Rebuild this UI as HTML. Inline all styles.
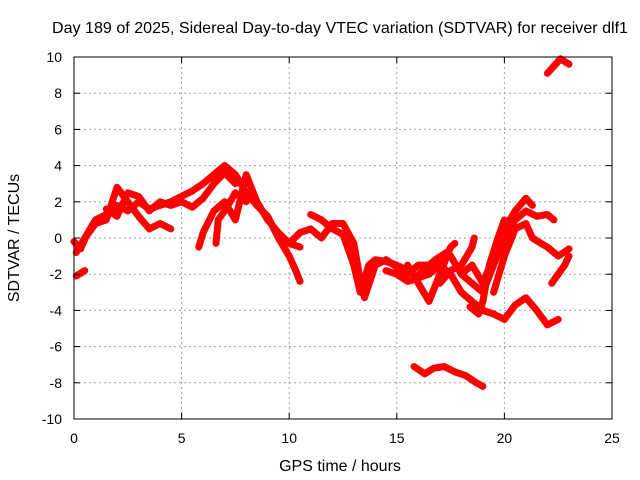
<!DOCTYPE html>
<html><head><meta charset="utf-8"><style>
html,body{margin:0;padding:0;background:#fff}
svg{display:block;font-family:"Liberation Sans",sans-serif}
</style></head><body>
<svg id="chart" width="640" height="480" xmlns="http://www.w3.org/2000/svg">
<text x="340" y="33" text-anchor="middle" font-size="16" textLength="576" lengthAdjust="spacingAndGlyphs" fill="#000">Day 189 of 2025, Sidereal Day-to-day VTEC variation (SDTVAR) for receiver dlf1</text>
<g id="grid"></g>
<g id="series"></g>
<rect x="74" y="57" width="538" height="362" fill="none" stroke="#000" stroke-width="1"/>
<g id="ticks"></g>
<text x="340" y="471" text-anchor="middle" font-size="16">GPS time / hours</text>
<text transform="translate(19,238) rotate(-90)" text-anchor="middle" font-size="16">SDTVAR / TECUs</text>
</svg>
<script>
const xTicks = [0,5,10,15,20,25];
const yTicks = [-10,-8,-6,-4,-2,0,2,4,6,8,10];
const trace1 = [[0,-0.2],[0.3,-0.6],[0.6,0.2],[1,1],[1.5,1.3],[2,1.8],[2.5,1.5],[3,2],[3.5,1.6],[4,1.8],[4.5,2],[5,2.3],[5.5,2.6],[6,3],[6.5,3.5],[7,4],[7.5,3.5],[8,2.5],[8.5,1.8],[9,1.2],[9.5,0],[10,-1],[10.3,-1.8],[10.5,-2.4]];
const trace2 = [[0.1,-0.8],[0.5,0],[1,0.8],[1.5,1],[2,2.8],[2.5,2],[3,1.2],[3.5,0.5],[4,0.8],[4.5,0.5]];
const trace3 = [[1.5,1.6],[2,1.2],[2.5,2.5],[3,2.3],[3.5,1.5],[4,2],[4.5,1.8],[5,2],[5.5,1.7],[6,2.2],[6.5,3],[7,3.6],[7.5,3]];
const trace4 = [[5.8,-0.5],[6,0.3],[6.5,1.5],[7,2],[7.5,1],[8,3.5],[8.5,2],[9,1],[9.5,0.3],[10,-0.3],[10.5,-0.5]];
const trace5 = [[6.6,-0.3],[6.7,1],[7,1.5],[7.5,2.5],[8,2]];
const trace6 = [[10,-0.3],[10.5,0.3],[11,0.5],[11.5,0],[12,0.8],[12.5,0.8],[13,-0.3],[13.3,-2.3],[13.5,-3.3],[14,-1.5],[14.5,-1.2],[15,-1.6],[15.5,-2],[16,-1.5],[16.5,-1.5],[17,-1.2],[17.5,-1],[18,-2],[18.5,-1.5],[19,-2.5],[19.5,-1],[20,0.5],[20.5,1.5],[21,2.2],[21.3,1.8]];
const trace7 = [[11,1.3],[11.5,1],[12,0.5],[12.5,0.2],[13,-1.5],[13.3,-3],[13.7,-1.5],[14,-1.2],[14.5,-1.3],[15,-1.5],[15.5,-1.8]];
const trace8 = [[15.5,-1.5],[16,-2.5],[16.5,-3.5],[17,-2],[17.5,-0.5],[17.7,-0.3]];
const trace9 = [[16,-2.2],[16.5,-2],[17,-1.5],[17.5,-2],[18,-3],[18.5,-3.5],[19,-4],[19.5,-4.2],[20,-4.5],[20.5,-3.7],[21,-3.3],[21.5,-4],[22,-4.8],[22.5,-4.5]];
const trace10 = [[17,-2.5],[17.5,-1.8],[18,-1.5],[18.5,-0.5],[18.6,0]];
const trace11 = [[18,-2],[18.5,-2.5],[19,-3],[19.5,-1.5],[20,0],[20.5,1],[21,1.5],[21.5,1.2],[22,1.3],[22.3,1]];
const trace12 = [[19.5,-3],[20,-1],[20.5,0.5],[21,0.8],[21.3,0],[21.7,-0.3],[22,-0.5],[22.5,-1],[23,-0.6]];
const trace13 = [[22.2,-2.5],[22.5,-2],[22.8,-1.5],[23,-1]];
const trace14 = [[15.8,-7.1],[16.3,-7.5],[16.7,-7.2],[17.2,-7.1],[17.7,-7.4],[18.2,-7.6],[18.7,-8],[19,-8.2]];
const trace15 = [[22,9.1],[22.3,9.5],[22.6,9.9],[23,9.6]];
const trace16 = [[0.1,-2.1],[0.5,-1.8]];
const trace17 = [[18.4,-3.8],[18.8,-4.2],[19,-3.5],[19.3,-1.5],[19.7,0],[20,1]];
const trace18 = [[14.5,-1.8],[15,-2],[15.5,-2.4],[15.8,-2.3],[16.2,-1.8],[16.8,-1.2],[17.3,-0.8]];
const traces = [trace1,trace2,trace3,trace4,trace5,trace6,trace7,trace8,trace9,trace10,trace11,trace12,trace13,trace14,trace15,trace16,trace17,trace18];

const X0=74, X1=612, Y0=419, Y1=57;
function sx(v){return X0+(v-0)/25*(X1-X0);}
function sy(v){return Y0-(v+10)/20*(Y0-Y1);}
const NS='http://www.w3.org/2000/svg';
const grid=document.getElementById('grid'), ticks=document.getElementById('ticks'), series=document.getElementById('series');
function mk(tag,attrs,parent){const e=document.createElementNS(NS,tag);for(const k in attrs)e.setAttribute(k,attrs[k]);parent.appendChild(e);return e;}
xTicks.forEach(t=>{
  const x=sx(t);
  if(t>0&&t<25){const g=mk('line',{x1:x,x2:x,y1:Y1,y2:Y0,stroke:'#a0a0a0','stroke-dasharray':'2,3'},grid);
  
  }
  const l=mk('line',{x1:x,x2:x,y1:Y0,y2:Y0-6,stroke:'#000'},ticks);
  
  
  const l2=mk('line',{x1:x,x2:x,y1:Y1,y2:Y1+6,stroke:'#000'},ticks);
  
  
  const tx=mk('text',{x:x,y:443,'text-anchor':'middle','font-size':14},ticks);tx.textContent=t;
  
  
});
yTicks.forEach(t=>{
  const y=sy(t);
  if(t>-10&&t<10){const g=mk('line',{x1:X0,x2:X1,y1:y,y2:y,stroke:'#a0a0a0','stroke-dasharray':'2,3'},grid);
  
  }
  const l=mk('line',{x1:X0,x2:X0+6,y1:y,y2:y,stroke:'#000'},ticks);
  
  
  const l2=mk('line',{x1:X1,x2:X1-6,y1:y,y2:y,stroke:'#000'},ticks);
  
  
  const tx=mk('text',{x:62,y:y+5,'text-anchor':'end','font-size':14},ticks);tx.textContent=t;
  
  
});
traces.forEach((tr)=>{
  const pts=tr.map(p=>sx(p[0]).toFixed(1)+','+sy(p[1]).toFixed(1)).join(' ');
  const pl=mk('polyline',{points:pts,fill:'none',stroke:'#ff0000','stroke-width':7,'stroke-linejoin':'round','stroke-linecap':'round'},series);
  
  
});
</script>
</body></html>
